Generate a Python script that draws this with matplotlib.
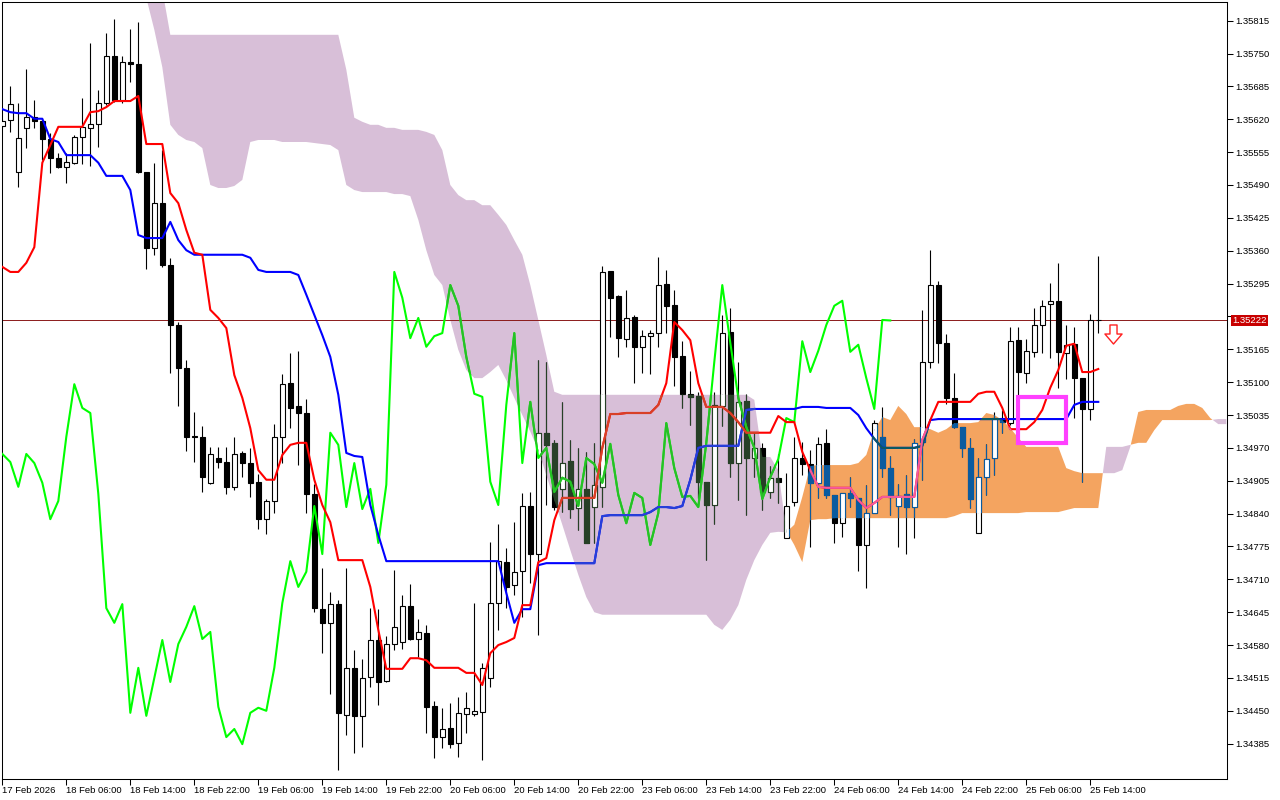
import numpy as np
import matplotlib
matplotlib.use("Agg")
import matplotlib.pyplot as plt
from matplotlib import font_manager
from matplotlib.path import Path
from matplotlib.patches import Rectangle

# H1 bars, bar 0 = 17 Feb 2026 22:00
OPEN = [
    1.35607, 1.35619, 1.35516, 1.35603, 1.35625, 1.35617, 1.35581, 1.35544, 1.35526, 1.35534,
    1.35585, 1.35603, 1.35611, 1.35652, 1.35745, 1.35658, 1.35733, 1.35729, 1.35516, 1.35365,
    1.35454, 1.35332, 1.35213, 1.35128, 1.34994, 1.34992, 1.34901, 1.34950, 1.34942, 1.34893,
    1.34960, 1.34940, 1.34903, 1.34829, 1.34865, 1.34992, 1.35098, 1.35053, 1.35039, 1.34879,
    1.34651, 1.34624, 1.34661, 1.34442, 1.34535, 1.34440, 1.34517, 1.34590, 1.34509, 1.34582,
    1.34586, 1.34657, 1.34592, 1.34604, 1.34460, 1.34398, 1.34416, 1.34386, 1.34444, 1.34444,
    1.34448, 1.34515, 1.34663, 1.34744, 1.34699, 1.34727, 1.34855, 1.34760, 1.35000, 1.34980,
    1.34889, 1.34944, 1.34851, 1.34889, 1.34853, 1.34893, 1.35320, 1.35271, 1.35185, 1.35229,
    1.35170, 1.35191, 1.35197, 1.35294, 1.35253, 1.35152, 1.35077, 1.35073, 1.34903, 1.34857,
    1.35053, 1.35199, 1.34940, 1.35063, 1.34950, 1.34970, 1.34883, 1.34911, 1.34792, 1.34863,
    1.34950, 1.34938, 1.34901, 1.34980, 1.34877, 1.34821, 1.34881, 1.34871, 1.34778, 1.34841,
    1.34992, 1.34930, 1.34855, 1.34879, 1.34853, 1.34982, 1.35140, 1.35292, 1.35178, 1.35069,
    1.35011, 1.34970, 1.34802, 1.34912, 1.34950, 1.35029, 1.35019, 1.35183, 1.35118, 1.35160,
    1.35213, 1.35255, 1.35261, 1.35158, 1.35176, 1.35108, 1.35047, 1.35223,
]
HIGH = [
    1.35621, 1.35686, 1.35652, 1.35720, 1.35658, 1.35619, 1.35593, 1.35553, 1.35553, 1.35589,
    1.35662, 1.35771, 1.35678, 1.35791, 1.35818, 1.35745, 1.35799, 1.35812, 1.35516, 1.35534,
    1.35559, 1.35346, 1.35219, 1.35144, 1.35041, 1.35013, 1.34972, 1.34972, 1.34972, 1.34992,
    1.34964, 1.34970, 1.34918, 1.34869, 1.35017, 1.35116, 1.35158, 1.35162, 1.35067, 1.34899,
    1.34732, 1.34685, 1.34669, 1.34732, 1.34570, 1.34552, 1.34653, 1.34651, 1.34598, 1.34728,
    1.34679, 1.34701, 1.34632, 1.34620, 1.34469, 1.34456, 1.34465, 1.34477, 1.34487, 1.34663,
    1.34545, 1.34784, 1.34820, 1.34772, 1.34823, 1.34881, 1.34883, 1.35144, 1.35140, 1.34986,
    1.35061, 1.34986, 1.34970, 1.34962, 1.34980, 1.35330, 1.35320, 1.35273, 1.35282, 1.35233,
    1.35203, 1.35203, 1.35348, 1.35322, 1.35282, 1.35181, 1.35122, 1.35081, 1.34903, 1.35081,
    1.35233, 1.35247, 1.35140, 1.35077, 1.35002, 1.34980, 1.34934, 1.34958, 1.34920, 1.34992,
    1.34982, 1.34966, 1.34992, 1.35007, 1.34877, 1.34881, 1.34912, 1.34871, 1.34897, 1.35025,
    1.35051, 1.34954, 1.34899, 1.34916, 1.34988, 1.35243, 1.35361, 1.35300, 1.35195, 1.35118,
    1.35011, 1.34990, 1.34950, 1.34978, 1.35041, 1.35045, 1.35209, 1.35209, 1.35185, 1.35247,
    1.35263, 1.35296, 1.35336, 1.35213, 1.35209, 1.35108, 1.35235, 1.35350,
]
LOW = [
    1.35603, 1.35595, 1.35486, 1.35563, 1.35603, 1.35540, 1.35514, 1.35524, 1.35494, 1.35532,
    1.35532, 1.35528, 1.35565, 1.35648, 1.35654, 1.35652, 1.35694, 1.35514, 1.35324, 1.35352,
    1.35328, 1.35118, 1.35053, 1.34964, 1.34942, 1.34883, 1.34899, 1.34930, 1.34879, 1.34887,
    1.34912, 1.34873, 1.34810, 1.34800, 1.34841, 1.34940, 1.35009, 1.34936, 1.34841, 1.34645,
    1.34564, 1.34483, 1.34333, 1.34402, 1.34367, 1.34378, 1.34497, 1.34461, 1.34507, 1.34570,
    1.34572, 1.34590, 1.34556, 1.34406, 1.34357, 1.34376, 1.34376, 1.34359, 1.34406, 1.34440,
    1.34353, 1.34497, 1.34610, 1.34653, 1.34679, 1.34636, 1.34703, 1.34600, 1.34857, 1.34847,
    1.34843, 1.34831, 1.34808, 1.34782, 1.34782, 1.34853, 1.35189, 1.35150, 1.35170, 1.35098,
    1.35118, 1.35116, 1.35170, 1.35197, 1.35092, 1.35049, 1.35015, 1.34871, 1.34748, 1.34820,
    1.35013, 1.34912, 1.34867, 1.34837, 1.34912, 1.34847, 1.34871, 1.34861, 1.34792, 1.34855,
    1.34916, 1.34774, 1.34871, 1.34871, 1.34782, 1.34794, 1.34853, 1.34727, 1.34693, 1.34841,
    1.34912, 1.34837, 1.34774, 1.34760, 1.34792, 1.34907, 1.35128, 1.35138, 1.35057, 1.35009,
    1.34952, 1.34851, 1.34802, 1.34877, 1.34916, 1.35000, 1.35015, 1.35073, 1.35098, 1.35150,
    1.35158, 1.35148, 1.35089, 1.35106, 1.35029, 1.34903, 1.35025, 1.35197,
]
CLOSE = [
    1.35617, 1.35650, 1.35583, 1.35625, 1.35617, 1.35581, 1.35544, 1.35526, 1.35536, 1.35585,
    1.35605, 1.35611, 1.35652, 1.35745, 1.35658, 1.35733, 1.35729, 1.35516, 1.35365, 1.35454,
    1.35332, 1.35213, 1.35128, 1.34992, 1.34992, 1.34912, 1.34958, 1.34942, 1.34893, 1.34958,
    1.34940, 1.34901, 1.34829, 1.34865, 1.34992, 1.35096, 1.35049, 1.35039, 1.34879, 1.34653,
    1.34624, 1.34661, 1.34446, 1.34535, 1.34440, 1.34515, 1.34590, 1.34507, 1.34582, 1.34616,
    1.34657, 1.34592, 1.34606, 1.34458, 1.34398, 1.34414, 1.34384, 1.34446, 1.34456, 1.34450,
    1.34535, 1.34663, 1.34746, 1.34695, 1.34725, 1.34855, 1.34760, 1.35000, 1.34976, 1.34853,
    1.34940, 1.34849, 1.34889, 1.34782, 1.34897, 1.35318, 1.35267, 1.35187, 1.35227, 1.35170,
    1.35191, 1.35197, 1.35292, 1.35251, 1.35150, 1.35077, 1.35071, 1.34903, 1.34857, 1.35055,
    1.35197, 1.34940, 1.35061, 1.34950, 1.34970, 1.34883, 1.34911, 1.34903, 1.34855, 1.34950,
    1.34938, 1.34901, 1.34978, 1.34877, 1.34821, 1.34881, 1.34871, 1.34778, 1.34841, 1.35019,
    1.34930, 1.34873, 1.34875, 1.34853, 1.34980, 1.35140, 1.35292, 1.35178, 1.35069, 1.35011,
    1.34970, 1.34869, 1.34912, 1.34948, 1.35029, 1.35021, 1.35181, 1.35120, 1.35162, 1.35213,
    1.35251, 1.35261, 1.35160, 1.35174, 1.35108, 1.35047, 1.35223, 1.35222,
]

# Ichimoku Tenkan-sen (red) and Kijun-sen (blue), one value per bar
TENKAN = [
    1.35328, 1.35318, 1.35318, 1.35336, 1.35367, 1.35534, 1.35569, 1.35605, 1.35605, 1.35605,
    1.35605, 1.35634, 1.35636, 1.35644, 1.35656, 1.35656, 1.35656, 1.35666, 1.35571, 1.35571,
    1.35571, 1.35474, 1.35454, 1.35401, 1.35356, 1.35352, 1.35243, 1.35227, 1.35207, 1.35114,
    1.35069, 1.35009, 1.34926, 1.34907, 1.34907, 1.34956, 1.34976, 1.34980, 1.34980, 1.34907,
    1.34857, 1.34823, 1.34748, 1.34748, 1.34748, 1.34748, 1.34695, 1.34610, 1.34533, 1.34533,
    1.34533, 1.34554, 1.34554, 1.34550, 1.34535, 1.34535, 1.34535, 1.34535, 1.34525, 1.34525,
    1.34501, 1.34564, 1.34580, 1.34586, 1.34594, 1.34659, 1.34659, 1.34744, 1.34752, 1.34827,
    1.34871, 1.34871, 1.34871, 1.34871, 1.34871, 1.34970, 1.35037, 1.35037, 1.35039, 1.35039,
    1.35039, 1.35039, 1.35055, 1.35098, 1.35219, 1.35203, 1.35183, 1.35098, 1.35051, 1.35051,
    1.35051, 1.35039, 1.35021, 1.35000, 1.35000, 1.35000, 1.35000, 1.35033, 1.35021, 1.35021,
    1.34962, 1.34926, 1.34893, 1.34891, 1.34891, 1.34891, 1.34891, 1.34867, 1.34851, 1.34861,
    1.34873, 1.34873, 1.34873, 1.34873, 1.34873, 1.34986, 1.35025, 1.35061, 1.35061, 1.35061,
    1.35061, 1.35061, 1.35077, 1.35081, 1.35081, 1.35049, 1.35007, 1.35007, 1.35007, 1.35021,
    1.35045, 1.35089, 1.35124, 1.35172, 1.35176, 1.35120, 1.35120, 1.35126,
]
KIJUN = [
    1.35640, 1.35634, 1.35632, 1.35632, 1.35621, 1.35621, 1.35581, 1.35575, 1.35549, 1.35549,
    1.35549, 1.35549, 1.35534, 1.35508, 1.35508, 1.35508, 1.35480, 1.35391, 1.35385, 1.35385,
    1.35385, 1.35417, 1.35381, 1.35361, 1.35352, 1.35352, 1.35352, 1.35352, 1.35352, 1.35352,
    1.35352, 1.35346, 1.35322, 1.35318, 1.35318, 1.35318, 1.35318, 1.35312, 1.35273, 1.35233,
    1.35193, 1.35150, 1.35075, 1.34960, 1.34954, 1.34952, 1.34857, 1.34798, 1.34746, 1.34746,
    1.34746, 1.34746, 1.34746, 1.34746, 1.34746, 1.34746, 1.34746, 1.34746, 1.34746, 1.34746,
    1.34746, 1.34746, 1.34746, 1.34683, 1.34624, 1.34651, 1.34651, 1.34738, 1.34742, 1.34742,
    1.34742, 1.34742, 1.34742, 1.34742, 1.34742, 1.34835, 1.34837, 1.34837, 1.34837, 1.34837,
    1.34837, 1.34843, 1.34853, 1.34853, 1.34851, 1.34855, 1.34907, 1.34970, 1.34974, 1.34974,
    1.34974, 1.34974, 1.34974, 1.35045, 1.35047, 1.35047, 1.35047, 1.35047, 1.35047, 1.35047,
    1.35051, 1.35051, 1.35051, 1.35049, 1.35049, 1.35049, 1.35049, 1.35035, 1.35009, 1.34988,
    1.34970, 1.34970, 1.34970, 1.34970, 1.34970, 1.34974, 1.35025, 1.35027, 1.35027, 1.35027,
    1.35027, 1.35027, 1.35027, 1.35027, 1.35027, 1.35027, 1.35027, 1.35027, 1.35027, 1.35027,
    1.35027, 1.35027, 1.35027, 1.35027, 1.35055, 1.35061, 1.35061, 1.35061,
]

# Senkou spans (already shifted 26 bars ahead), starting at bar 18
CLOUD_FIRST_BAR = 18
SPAN_A = [
    1.35860, 1.35797, 1.35723, 1.35609, 1.35589, 1.35579, 1.35575, 1.35563, 1.35490, 1.35484,
    1.35484, 1.35488, 1.35500, 1.35575, 1.35579, 1.35579, 1.35579, 1.35575, 1.35575, 1.35575,
    1.35575, 1.35573, 1.35571, 1.35569, 1.35559, 1.35490, 1.35480, 1.35476, 1.35476, 1.35476,
    1.35476, 1.35472, 1.35472, 1.35468, 1.35421, 1.35361, 1.35312, 1.35292, 1.35223, 1.35164,
    1.35124, 1.35108, 1.35108, 1.35120, 1.35134, 1.35104, 1.35069, 1.35035, 1.35002, 1.34966,
    1.34916, 1.34867, 1.34818, 1.34768, 1.34719, 1.34675, 1.34645, 1.34640, 1.34640, 1.34640,
    1.34640, 1.34640, 1.34640, 1.34640, 1.34640, 1.34640, 1.34640, 1.34640, 1.34640, 1.34640,
    1.34640, 1.34620, 1.34610, 1.34630, 1.34659, 1.34709, 1.34748, 1.34778, 1.34802, 1.34804,
    1.34803, 1.34818, 1.34873, 1.34934, 1.34936, 1.34936, 1.34936, 1.34936, 1.34936, 1.34940,
    1.34956, 1.35005, 1.35031, 1.35025, 1.35053, 1.35037, 1.35011, 1.35011, 1.35007, 1.35000,
    1.35007, 1.35019, 1.35019, 1.35019, 1.35021, 1.35039, 1.35035, 1.35025, 1.35009, 1.34990,
    1.34972, 1.34972, 1.34972, 1.34972, 1.34972, 1.34930, 1.34924, 1.34920, 1.34920, 1.34920,
    1.34920, 1.34920, 1.34926, 1.34972, 1.35041, 1.35045, 1.35045, 1.35045, 1.35045, 1.35053,
    1.35057, 1.35057, 1.35049, 1.35029, 1.35017, 1.35017,
]
SPAN_B = [
    1.35876, 1.35876, 1.35876, 1.35787, 1.35787, 1.35787, 1.35787, 1.35787, 1.35787, 1.35787,
    1.35787, 1.35787, 1.35787, 1.35787, 1.35787, 1.35787, 1.35787, 1.35787, 1.35787, 1.35787,
    1.35787, 1.35787, 1.35787, 1.35787, 1.35787, 1.35718, 1.35623, 1.35615, 1.35609, 1.35609,
    1.35603, 1.35603, 1.35599, 1.35599, 1.35599, 1.35595, 1.35589, 1.35559, 1.35490, 1.35470,
    1.35460, 1.35460, 1.35450, 1.35450, 1.35431, 1.35411, 1.35381, 1.35352, 1.35292, 1.35223,
    1.35154, 1.35081, 1.35075, 1.35075, 1.35075, 1.35075, 1.35075, 1.35075, 1.35075, 1.35075,
    1.35075, 1.35075, 1.35075, 1.35075, 1.35075, 1.35075, 1.35075, 1.35075, 1.35075, 1.35075,
    1.35075, 1.35075, 1.35075, 1.35075, 1.35075, 1.35075, 1.35065, 1.34952, 1.34952, 1.34926,
    1.34806, 1.34778, 1.34744, 1.34827, 1.34829, 1.34829, 1.34831, 1.34831, 1.34831, 1.34831,
    1.34831, 1.34831, 1.34831, 1.34831, 1.34831, 1.34831, 1.34831, 1.34831, 1.34831, 1.34831,
    1.34831, 1.34835, 1.34841, 1.34841, 1.34841, 1.34841, 1.34841, 1.34841, 1.34841, 1.34841,
    1.34843, 1.34843, 1.34843, 1.34843, 1.34843, 1.34847, 1.34851, 1.34851, 1.34851, 1.34851,
    1.34972, 1.34972, 1.34972, 1.34976, 1.34980, 1.34980, 1.35005, 1.35025, 1.35025, 1.35025,
    1.35025, 1.35025, 1.35025, 1.35025, 1.35027, 1.35027,
]
CHIKOU_SHIFT = 26
LAST_PRICE = 1.35222

Y_TICKS = [1.34385, 1.34450, 1.34515, 1.34580, 1.34645, 1.34710, 1.34775, 1.34840,
           1.34905, 1.34970, 1.35035, 1.35100, 1.35165, 1.35230, 1.35295, 1.35360,
           1.35425, 1.35490, 1.35555, 1.35620, 1.35685, 1.35750, 1.35815]
TICK_BARS = [0, 8, 16, 24, 32, 40, 48, 56, 64, 72, 80, 88, 96, 104, 112, 120, 128, 136]
TICK_LABELS = ["17 Feb 2026", "18 Feb 06:00", "18 Feb 14:00", "18 Feb 22:00",
               "19 Feb 06:00", "19 Feb 14:00", "19 Feb 22:00", "20 Feb 06:00",
               "20 Feb 14:00", "20 Feb 22:00", "23 Feb 06:00", "23 Feb 14:00",
               "23 Feb 22:00", "24 Feb 06:00", "24 Feb 14:00", "24 Feb 22:00",
               "25 Feb 06:00", "25 Feb 14:00"]

BOX_BARS = (127, 133)
BOX_PRICES = (1.34980, 1.35071)
SIGNAL_BAR = 138.9
SIGNAL_PRICE = 1.35195

names = {f.name for f in font_manager.fontManager.ttflist}
if "Liberation Sans Narrow" in names:
    plt.rcParams["font.family"] = ["Liberation Sans Narrow", "DejaVu Sans"]
    fs = 7.7
else:
    plt.rcParams["font.family"] = ["Liberation Sans", "DejaVu Sans"]
    fs = 6.8

o, h, l, c = (np.array(v) for v in (OPEN, HIGH, LOW, CLOSE))
bars = np.arange(len(c))
sa, sb = np.array(SPAN_A), np.array(SPAN_B)
cx = np.arange(CLOUD_FIRST_BAR, CLOUD_FIRST_BAR + len(sa))

fig = plt.figure(figsize=(12.8, 8), dpi=100)
ax = fig.add_axes([2 / 1280, 21 / 800, 1225 / 1280, 777 / 800])

# kumo
up = ax.fill_between(cx, sa, sb, where=sa >= sb, interpolate=True,
                     color="#f4a460", lw=0, zorder=1)
dn = ax.fill_between(cx, sa, sb, where=sa < sb, interpolate=True,
                     color="#d8bfd8", lw=0, zorder=1)
up_clip = Path.make_compound_path(*up.get_paths())
dn_clip = Path.make_compound_path(*dn.get_paths())

ax.axhline(LAST_PRICE, color="#8b1a1a", lw=0.7, zorder=2)


def candles(edge, bear_face, clip=None, z=3):
    bull = c >= o
    wick = ax.vlines(bars, l, h, color=edge, lw=0.8, zorder=z)
    faces = np.where(bull, "white", bear_face)
    body = ax.bar(bars, np.abs(c - o), bottom=np.minimum(o, c), width=0.58,
                  color=faces, edgecolor=edge, lw=0.8, zorder=z + 0.1)
    if clip is not None:
        wick.set_clip_path(clip, ax.transData)
        for p in body.patches:
            p.set_clip_path(clip, ax.transData)


candles("black", "black")
# colours the terminal shows where candles sit inside the cloud
candles("#0b5b9f", "#0b5b9f", up_clip, z=3.3)
candles("#274027", "#274027", dn_clip, z=3.3)


def indicator(x, y, color, up_color, dn_color):
    ax.plot(x, y, color=color, lw=1.5, zorder=5)
    for col, clip in ((up_color, up_clip), (dn_color, dn_clip)):
        ln, = ax.plot(x, y, color=col, lw=1.5, zorder=5.1)
        ln.set_clip_path(clip, ax.transData)


n_chikou = len(c) - CHIKOU_SHIFT
indicator(bars[:n_chikou], c[CHIKOU_SHIFT:], "#00ff00", "#0ba49f", "#27bf27")
indicator(bars, KIJUN, "#0000ff", "#0b5b60", "#2740d8")
indicator(bars, TENKAN, "#ff0000", "#f45b9f", "#d84027")

ax.add_patch(Rectangle((BOX_BARS[0], BOX_PRICES[0]), BOX_BARS[1] - BOX_BARS[0],
                       BOX_PRICES[1] - BOX_PRICES[0], fill=False,
                       edgecolor="#ff40ff", lw=3, zorder=7))

arrow = Path([(-0.37, 1), (0.37, 1), (0.37, 0.05), (0.9, 0.05), (0, -1),
              (-0.9, 0.05), (-0.37, 0.05), (-0.37, 1)],
             [Path.MOVETO] + [Path.LINETO] * 6 + [Path.CLOSEPOLY])
ax.plot([SIGNAL_BAR], [SIGNAL_PRICE], marker=arrow, ms=13.7, mfc="white",
        mec="#ff2020", mew=1.0, zorder=8, linestyle="none")

ax.set_xlim(-0.04, 153.09)
ax.set_ylim(1.343151, 1.358519)
ax.yaxis.tick_right()
ax.set_yticks(Y_TICKS)
# the tick label next to the last price sits under the price tag
ax.set_yticklabels(["" if abs(v - LAST_PRICE) < 0.0002 else f"{v:.5f}" for v in Y_TICKS])
ax.set_xticks(TICK_BARS)
ax.set_xticklabels(TICK_LABELS, ha="left")
ax.tick_params(axis="both", direction="out", length=4, width=0.75,
               labelsize=fs, colors="black")
ax.tick_params(axis="y", pad=2)
ax.tick_params(axis="x", pad=1)
for s in ax.spines.values():
    s.set_linewidth(0.75)

ax.annotate(f"{LAST_PRICE:.5f}", xy=(1, LAST_PRICE),
            xycoords=("axes fraction", "data"), xytext=(5, 0),
            textcoords="offset pixels", ha="left", va="center", color="white",
            fontsize=fs, annotation_clip=False, zorder=10,
            bbox=dict(boxstyle="square,pad=0.15", fc="#c80000", ec="none"))

fig.savefig("out.png", dpi=100, facecolor="white")
